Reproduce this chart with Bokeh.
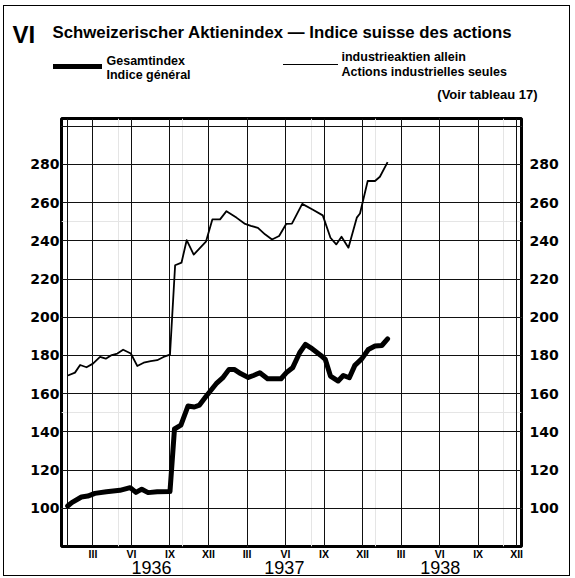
from bokeh.plotting import figure
from bokeh.layouts import column
from bokeh.models import FixedTicker, LinearAxis, Range1d, Grid, Div
from bokeh.embed import file_html
from bokeh.resources import INLINE

# ---- data (x = month index, Jan 1936 = 1) ----
gesamt_month = [1.03, 1.35, 2.1, 2.6, 3.15, 4.05, 5.1, 5.9, 6.35, 6.8, 7.3, 8.0, 9.0,
                9.35, 9.85, 10.4, 10.9, 11.3, 11.8, 12.6, 13.1, 13.6, 14.0, 14.5, 15.1,
                15.5, 16.0, 16.6, 17.65, 18.05, 18.55, 19.1, 19.55, 19.97, 20.75, 21.1,
                21.5, 22.1, 22.5, 22.97, 23.4, 23.95, 24.45, 24.97, 25.5, 25.95]
gesamt_value = [101.2, 103.0, 105.9, 106.4, 107.8, 108.7, 109.4, 110.8, 108.3, 110.0, 108.2,
                108.6, 108.8, 141.5, 143.5, 153.5, 153.0, 154.0, 158.5, 165.2, 168.2, 172.7,
                172.7, 170.5, 168.5, 169.5, 170.9, 167.8, 167.8, 170.9, 173.5, 181.4, 185.8,
                184.0, 180.0, 177.9, 169.2, 166.6, 169.5, 168.3, 174.8, 178.3, 183.1, 184.9,
                185.2, 188.7]

indus_month = [1.05, 1.6, 2.0, 2.5, 3.0, 3.55, 4.0, 4.4, 4.9, 5.35, 5.95, 6.45, 6.95, 7.5,
               8.0, 8.5, 9.0, 9.4, 9.9, 10.3, 10.85, 11.8, 12.3, 12.9, 13.4, 14.2, 14.8,
               15.3, 15.85, 16.4, 16.95, 17.5, 18.05, 18.5, 19.3, 20.1, 20.9, 21.5, 21.95,
               22.36, 22.9, 23.55, 23.8, 24.4, 24.97, 25.35, 25.95]
indus_value = [169.5, 171.0, 175.0, 173.8, 175.7, 179.2, 178.3, 180.0, 181.0, 183.0, 181.0,
               174.5, 176.2, 177.0, 177.5, 179.2, 180.4, 227.2, 228.6, 240.3, 232.8, 239.5,
               251.2, 251.2, 255.5, 252.0, 249.0, 247.8, 246.8, 243.4, 240.7, 242.5, 248.8,
               249.0, 259.3, 256.4, 253.3, 241.6, 238.1, 242.1, 236.4, 252.1, 254.3, 271.3,
               271.3, 273.5, 281.2]

y_ticks = [100, 120, 140, 160, 180, 200, 220, 240, 260, 280]
y_grid = y_ticks + [300]
x_ticks = [3, 6, 9, 12, 15, 18, 21, 24, 27, 30, 33, 36]
x_grid = [1] + x_ticks
x_tick_labels = ["III", "VI", "IX", "XII", "III", "VI", "IX", "XII", "III", "VI", "IX", "XII"]
years = ["1936", "1937", "1938"]
year_month = [7.6, 17.95, 30.1]

title_num = "VI"
title = "Schweizerischer Aktienindex \u2014 Indice suisse des actions"
leg1 = ["Gesamtindex", "Indice g\u00e9n\u00e9ral"]
leg2 = ["industrieaktien allein", "Actions industrielles seules"]
note = "(Voir tableau 17)"

# ---- geometry ----
X0, X1 = 0.55, 36.38
Y0, Y1 = 80, 304
CW = 565            # content width
HH = 100            # header height
FL, FR, FT, FB = 57, 48, 12, 15
FH = 456            # figure height
FOOT = 13           # footer height
FRAME_W = CW - FL - FR

FONT = "'Liberation Sans', Arial, sans-serif"


def span(text, left, top, size, weight="bold", extra=""):
    return (f'<div style="position:absolute;left:{left}px;top:{top}px;font-family:{FONT};'
            f'font-size:{size}px;line-height:{size}px;font-weight:{weight};color:#000;'
            f'white-space:nowrap;{extra}">{text}</div>')


def bar(left, top, w, h):
    return (f'<div style="position:absolute;left:{left}px;top:{top}px;width:{w}px;'
            f'height:{h}px;background:#000;"></div>')


header_html = (f'<div style="position:relative;width:{CW}px;height:{HH}px;">'
               + span(title_num, 8.5, 16.5, 24)
               + span(title, 48.5, 19.3, 16.8)
               + bar(48.5, 57.5, 49, 5)
               + span(leg1[0], 102.5, 48.6, 12.5) + span(leg1[1], 102.5, 62.9, 12.5)
               + bar(278.5, 57.8, 55, 1.5)
               + span(leg2[0], 337.5, 44.6, 12.5) + span(leg2[1], 337.5, 59.6, 12.5)
               + span(note, 0, 81.5, 13, extra="width:533.5px;text-align:right;")
               + '</div>')
header = Div(text=header_html, width=CW, height=HH, margin=0)

year_spans = "".join(
    span(y, FL + (m - X0) / (X1 - X0) * FRAME_W, -2.7, 18, weight="normal",
         extra="transform:translateX(-50%);")
    for y, m in zip(years, year_month))
footer = Div(text=f'<div style="position:relative;width:{CW}px;height:{FOOT}px;">{year_spans}</div>',
             width=CW, height=FOOT, margin=0)

# ---- figure ----
p = figure(width=CW, height=FH, x_range=Range1d(X0, X1), y_range=Range1d(Y0, Y1),
           output_backend="svg", toolbar_location=None,
           x_axis_location=None, y_axis_location=None,
           min_border_left=FL, min_border_right=FR, min_border_top=FT, min_border_bottom=FB,
           margin=0)
p.background_fill_color = "white"
p.border_fill_color = "white"
p.outline_line_color = "black"
p.outline_line_width = 3

p.add_layout(Grid(dimension=0, ticker=FixedTicker(ticks=x_grid), grid_line_color="#111111",
                  grid_line_width=1))
p.add_layout(Grid(dimension=1, ticker=FixedTicker(ticks=y_grid), grid_line_color="#111111",
                  grid_line_width=1))


def yaxis(standoff):
    return LinearAxis(ticker=FixedTicker(ticks=y_ticks), axis_line_color=None,
                      major_tick_line_color=None, minor_tick_line_color=None,
                      major_tick_out=0, major_tick_in=0, minor_tick_out=0, minor_tick_in=0,
                      major_label_standoff=standoff, major_label_text_font="DejaVu Sans",
                      major_label_text_font_style="bold",
                      major_label_text_font_size="14px", major_label_text_color="black")


p.add_layout(yaxis(2), "left")
p.add_layout(yaxis(8), "right")

xa = LinearAxis(ticker=FixedTicker(ticks=x_ticks),
                major_label_overrides={t: l for t, l in zip(x_ticks, x_tick_labels)},
                axis_line_color=None, major_tick_line_color=None, minor_tick_line_color=None,
                major_tick_out=0, major_tick_in=0, minor_tick_out=0, minor_tick_in=0,
                major_label_standoff=1, major_label_text_font="Liberation Sans",
                major_label_text_font_style="bold", major_label_text_font_size="10.5px",
                major_label_text_color="black")
p.add_layout(xa, "below")

p.line(indus_month, indus_value, line_width=1.8, color="black", line_join="round")
p.line(gesamt_month, gesamt_value, line_width=5, color="black", line_join="round",
       line_cap="round")

layout = column(header, p, footer, spacing=0, margin=(5, 0, 0, 3),
                styles={"border": "1.5px solid black", "background": "white"})

open("out.html", "w").write(file_html(layout, INLINE))
